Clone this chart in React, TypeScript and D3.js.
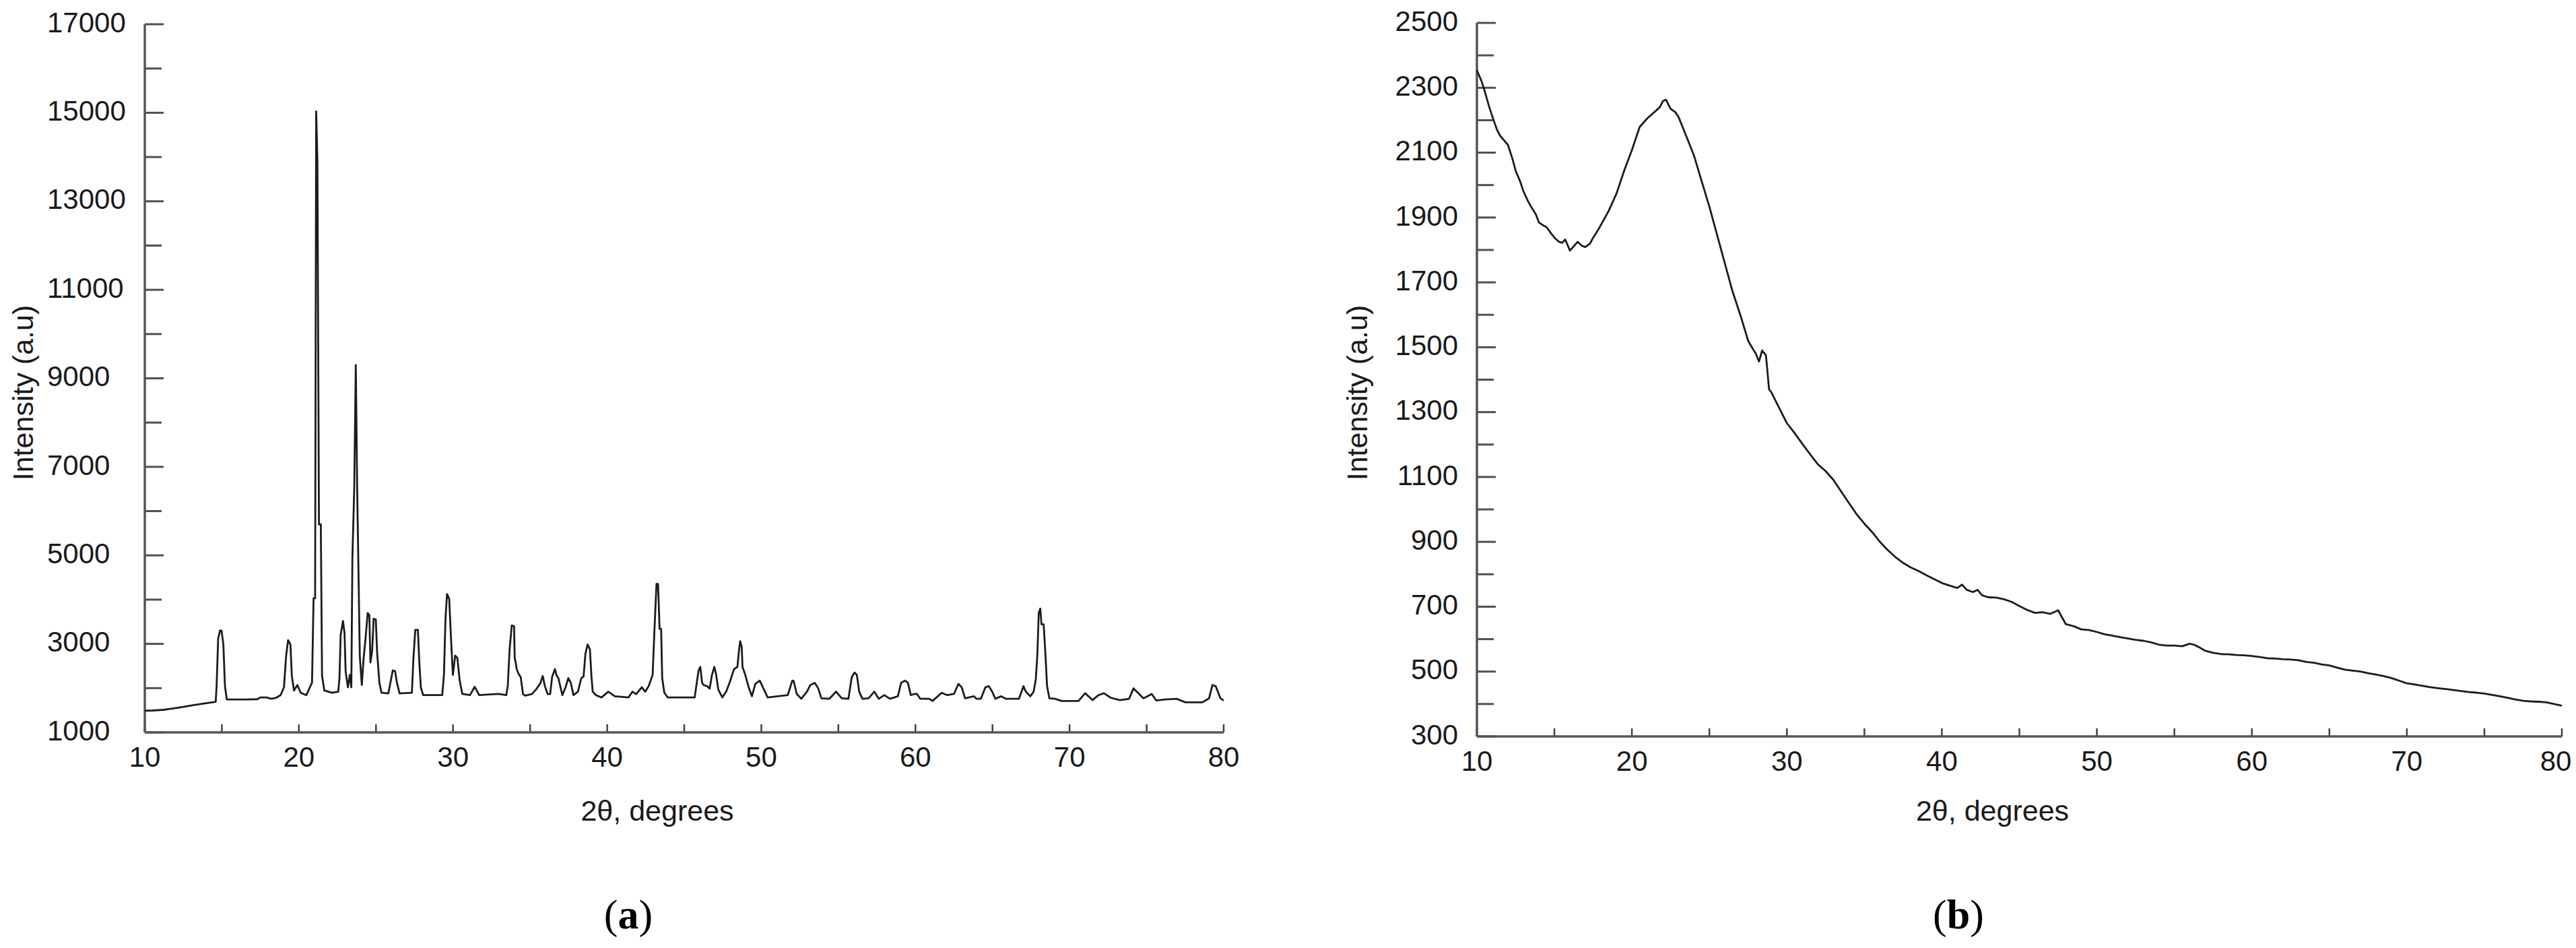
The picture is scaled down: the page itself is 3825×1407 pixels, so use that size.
import React, { useEffect, useRef } from 'react';
import * as d3 from 'd3';

// 2θ (deg) / intensity vertices, crystalline pattern
const crystalline: [number, number][] = [
  [10.0, 1490], [10.5, 1495], [11.2, 1510], [11.8, 1540], [12.5, 1575], [13.2, 1620], [14.0, 1660], [14.6, 1690],
  [14.66, 2050], [14.76, 3116], [14.88, 3300], [14.98, 3300], [15.1, 2980], [15.2, 2050], [15.32, 1745],
  [16.5, 1745], [17.3, 1750], [17.5, 1790], [17.9, 1790], [18.2, 1760], [18.5, 1780], [18.81, 1842],
  [19.03, 2020], [19.17, 2735], [19.3, 3085], [19.45, 2985], [19.54, 2280], [19.68, 1945], [19.9, 2070],
  [20.12, 1895], [20.48, 1842], [20.85, 2125],
  [20.95, 4030], [21.05, 4030], [21.12, 15030], [21.2, 13900], [21.3, 5700], [21.42, 5700], [21.5, 2280], [21.65, 1945],
  [22.15, 1895], [22.55, 1918], [22.63, 2225], [22.71, 3212], [22.86, 3517], [22.96, 3240], [23.03, 2375],
  [23.18, 2020], [23.3, 2300], [23.4, 2020],
  [23.47, 4963], [23.59, 6510], [23.69, 9300], [23.78, 6510], [23.95, 2730], [24.08, 2070], [24.2, 2680],
  [24.32, 3110], [24.46, 3695], [24.57, 3650], [24.64, 2580], [24.75, 2830], [24.85, 3570], [24.99, 3550],
  [25.07, 2830], [25.22, 2125], [25.36, 1895], [25.8, 1880],
  [25.95, 2150], [26.09, 2400], [26.24, 2380], [26.36, 2125], [26.53, 1880], [27.33, 1895],
  [27.43, 2680], [27.55, 3315], [27.72, 3315], [27.81, 2600], [27.91, 2020], [28.06, 1842], [29.3, 1842],
  [29.41, 2300], [29.51, 3570], [29.61, 4126], [29.75, 4020], [29.88, 3040], [29.99, 2300], [30.14, 2735],
  [30.28, 2680], [30.43, 2175], [30.6, 1868],
  [31.1, 1842], [31.4, 2030], [31.7, 1842], [32.94, 1870], [33.45, 1842],
  [33.55, 2045], [33.67, 2883], [33.81, 3415], [33.96, 3400], [34.0, 2680], [34.07, 2570], [34.13, 2430],
  [34.25, 2325], [34.39, 2250], [34.54, 1865], [34.68, 1830], [35.12, 1865], [35.41, 1980], [35.67, 2115],
  [35.82, 2275], [35.96, 2045], [36.14, 1865], [36.3, 1865], [36.43, 2255], [36.61, 2430], [36.72, 2285],
  [36.84, 2220], [37.09, 1842], [37.3, 2020], [37.48, 2225], [37.64, 2120], [37.81, 1842], [38.1, 1920],
  [38.32, 2225], [38.47, 2265], [38.59, 2780], [38.73, 2985], [38.88, 2880], [38.98, 2265], [39.06, 1920],
  [39.27, 1842], [39.63, 1790], [40.07, 1920], [40.5, 1816], [41.38, 1790], [41.64, 1920], [41.88, 1865],
  [42.25, 2020], [42.47, 1920], [42.69, 2045], [42.95, 2300], [43.07, 3340], [43.2, 4354], [43.3, 4354],
  [43.4, 3340], [43.5, 3340], [43.57, 2225], [43.71, 1895], [43.93, 1790], [45.68, 1790],
  [45.78, 2045], [45.93, 2400], [46.04, 2480], [46.16, 2120], [46.26, 2070], [46.48, 2045], [46.65, 1990],
  [46.8, 2300], [46.95, 2480], [47.06, 2325], [47.21, 1970], [47.47, 1790], [47.72, 1920], [47.97, 2150],
  [48.23, 2430], [48.45, 2480], [48.56, 2880], [48.63, 3060], [48.73, 2930], [48.78, 2480], [48.96, 2300],
  [49.18, 2020], [49.39, 1816], [49.61, 2095], [49.9, 2170], [50.1, 2020], [50.41, 1790], [51.72, 1842],
  [52.01, 2170], [52.1, 2160], [52.3, 1868], [52.59, 1760], [52.96, 1920], [53.18, 2070], [53.47, 2120],
  [53.69, 1995], [53.9, 1770], [54.42, 1760], [54.85, 1920], [55.22, 1770], [55.65, 1760], [55.87, 2250],
  [56.06, 2350], [56.2, 2300], [56.35, 1920], [56.56, 1760], [56.96, 1770], [57.33, 1920], [57.62, 1760],
  [57.98, 1842], [58.35, 1760], [58.86, 1816], [59.07, 2120], [59.32, 2170], [59.51, 2120], [59.7, 1842],
  [59.95, 1868], [60.1, 1868], [60.31, 1760], [60.9, 1760], [61.11, 1710], [61.7, 1895], [62.06, 1842],
  [62.5, 1868], [62.79, 2095], [63.0, 2020], [63.22, 1770], [63.8, 1816], [63.95, 1760], [64.25, 1760],
  [64.54, 2020], [64.76, 2045], [64.98, 1920], [65.19, 1760], [65.56, 1816], [65.85, 1760], [66.72, 1760],
  [67.01, 2045], [67.16, 1920], [67.45, 1816], [67.67, 1920], [67.81, 2200], [67.91, 2755], [68.0, 3695],
  [68.1, 3797], [68.18, 3440], [68.32, 3440], [68.44, 2730], [68.54, 2045], [68.69, 1770], [69.05, 1760],
  [69.49, 1710], [70.58, 1710], [71.01, 1885], [71.49, 1730], [71.88, 1842], [72.22, 1885], [72.69, 1780],
  [73.27, 1730], [73.86, 1760], [74.15, 1995], [74.8, 1770], [75.33, 1868], [75.63, 1720], [76.2, 1745],
  [76.94, 1760], [77.52, 1680], [78.61, 1680], [79.05, 1770], [79.27, 2070], [79.48, 2045], [79.79, 1770],
  [80.0, 1720],
];

// 2θ (deg) / intensity, amorphous pattern
const amorphous: [number, number][] = [
  [10.0, 2354], [10.3, 2320], [10.5, 2290], [10.8, 2240], [11, 2211], [11.3, 2170], [11.5, 2152], [11.8, 2135],
  [12, 2124], [12.3, 2080], [12.5, 2044], [12.8, 2010], [13, 1981], [13.3, 1950], [13.5, 1933], [13.8, 1910],
  [14, 1885], [14.3, 1875], [14.5, 1870], [14.8, 1850], [15, 1838], [15.3, 1825], [15.5, 1822], [15.7, 1832],
  [16, 1798], [16.3, 1814], [16.5, 1825], [16.8, 1812], [17, 1809], [17.3, 1820], [17.5, 1838], [17.8, 1860],
  [18, 1877], [18.5, 1920], [19, 1973], [19.5, 2044], [20, 2108], [20.5, 2179], [21, 2206], [21.5, 2227],
  [21.8, 2240], [22, 2259], [22.2, 2263], [22.5, 2235], [22.8, 2225], [23, 2211], [23.5, 2152], [24, 2092],
  [24.5, 2012], [25, 1933], [25.5, 1846], [26, 1758], [26.5, 1671], [27, 1599], [27.5, 1520], [27.8, 1495],
  [28, 1480], [28.2, 1456], [28.4, 1490], [28.65, 1475], [28.85, 1370], [29, 1361], [29.5, 1313], [30, 1266],
  [30.5, 1235], [31, 1202], [31.5, 1170], [32, 1139], [32.5, 1118], [33, 1091], [33.5, 1055], [34, 1020],
  [34.5, 985], [35, 956], [35.5, 930], [36, 900], [36.5, 875], [37, 853], [37.5, 835], [38, 821], [38.5, 810],
  [39, 797], [39.5, 785], [40, 773], [40.5, 765], [41, 758], [41.3, 768], [41.6, 752], [42, 745], [42.3, 752],
  [42.6, 735], [43, 729], [43.5, 728], [44, 723], [44.5, 715], [45, 702], [45.5, 690], [46, 681], [46.5, 683],
  [47, 678], [47.5, 689], [48, 646], [48.5, 640], [49, 630], [49.5, 628], [50, 622], [50.5, 615], [51, 611],
  [51.5, 606], [52, 602], [52.5, 598], [53, 595], [53.5, 590], [54, 583], [54.5, 580], [55, 580], [55.5, 578],
  [56, 586], [56.3, 582], [56.6, 575], [57, 564], [57.5, 558], [58, 554], [58.5, 553], [59, 551], [59.5, 550],
  [60, 548], [60.5, 545], [61, 541], [61.5, 540], [62, 538], [62.5, 537], [63, 535], [63.5, 530], [64, 527],
  [64.5, 522], [65, 519], [65.5, 512], [66, 506], [66.5, 503], [67, 500], [67.5, 495], [68, 491], [68.5, 486],
  [69, 480], [69.5, 472], [70, 464], [70.5, 460], [71, 456], [71.5, 452], [72, 449], [72.5, 446], [73, 443],
  [73.5, 440], [74, 437], [74.5, 435], [75, 432], [75.5, 428], [76, 424], [76.5, 419], [77, 414], [77.5, 410],
  [78, 408], [78.5, 407], [79, 405], [79.5, 400], [80, 395],
];

const xTicks = [10, 15, 20, 25, 30, 35, 40, 45, 50, 55, 60, 65, 70, 75, 80];
const xLabels = [10, 20, 30, 40, 50, 60, 70, 80];
const yTicksA = d3.range(1000, 17001, 1000);
const yLabelsA = [1000, 3000, 5000, 7000, 9000, 11000, 13000, 15000, 17000];
const yTicksB = d3.range(300, 2501, 100);
const yLabelsB = [300, 500, 700, 900, 1100, 1300, 1500, 1700, 1900, 2100, 2300, 2500];

const xTitle = '2θ, degrees';
const yTitle = 'Intensity (a.u)';

const SANS = '"Liberation Sans", Arial, sans-serif';
const SERIF = '"Liberation Serif", "Times New Roman", serif';
const W = 3825;

const App = () => {
  const ref = useRef<SVGSVGElement>(null);

  const graph = () => {
    const svg = d3.select(ref.current);
    svg.selectAll('*').remove();

    const panels = [
      {
        data: crystalline, yDomain: [1000, 17000], yTicks: yTicksA, yLabels: yLabelsA,
        x0: 215, x1: 1817, yTop: 36, yBot: 1087, labelX: 70, labelAnchor: 'start',
        yTitleX: 34, tag: 'a', tagX: 933,
      },
      {
        data: amorphous, yDomain: [300, 2500], yTicks: yTicksB, yLabels: yLabelsB,
        x0: 2193, x1: 3804, yTop: 34, yBot: 1093, labelX: 2165, labelAnchor: 'end',
        yTitleX: 2015, tag: 'b', tagX: 2908,
      },
    ];

    panels.forEach((p) => {
      const x = d3.scaleLinear().domain([10, 80]).range([p.x0, p.x1]);
      const y = d3.scaleLinear().domain(p.yDomain).range([p.yBot, p.yTop]);
      const g = svg.append('g');

      // y ticks (inside, pointing right)
      g.selectAll('line.yt')
        .data(p.yTicks)
        .enter().append('line')
        .attr('x1', p.x0)
        .attr('x2', (d) => p.x0 + (p.yLabels.includes(d) ? 28 : 25))
        .attr('y1', (d) => y(d))
        .attr('y2', (d) => y(d))
        .attr('stroke', '#505050')
        .attr('stroke-width', 3);

      g.selectAll('text.yl')
        .data(p.yLabels)
        .enter().append('text')
        .attr('x', p.labelX)
        .attr('y', (d) => y(d) - 3)
        .attr('dy', '0.35em')
        .attr('text-anchor', p.labelAnchor)
        .style('font-family', SANS)
        .style('font-size', '42px')
        .attr('fill', '#1a1a1a')
        .text((d) => d);

      // x ticks (inside, pointing up)
      g.selectAll('line.xt')
        .data(xTicks)
        .enter().append('line')
        .attr('x1', (d) => x(d))
        .attr('x2', (d) => x(d))
        .attr('y1', p.yBot)
        .attr('y2', p.yBot - 12)
        .attr('stroke', '#404040')
        .attr('stroke-width', 2.5);

      // keep the last label inside the page edge
      g.selectAll('text.xl')
        .data(xLabels)
        .enter().append('text')
        .attr('x', (d) => Math.min(x(d), W - 30))
        .attr('y', p.yBot + 36)
        .attr('dy', '0.35em')
        .attr('text-anchor', 'middle')
        .style('font-family', SANS)
        .style('font-size', '42px')
        .attr('fill', '#1a1a1a')
        .text((d) => d);

      // axis lines
      g.append('line')
        .attr('x1', p.x0).attr('x2', p.x0)
        .attr('y1', p.yTop).attr('y2', p.yBot)
        .attr('stroke', '#555').attr('stroke-width', 3.5);
      g.append('line')
        .attr('x1', p.x0).attr('x2', p.x1)
        .attr('y1', p.yBot).attr('y2', p.yBot)
        .attr('stroke', '#555').attr('stroke-width', 3.5);

      // pattern
      const line = d3.line<[number, number]>()
        .x((d) => x(d[0]))
        .y((d) => y(d[1]));
      g.append('path')
        .datum(p.data)
        .attr('d', line)
        .attr('fill', 'none')
        .attr('stroke', '#1c1c1c')
        .attr('stroke-width', 2.8)
        .attr('stroke-linejoin', 'round');

      // titles
      g.append('text')
        .attr('x', (p.x0 + p.x1) / 2 - 40)
        .attr('y', 1203)
        .attr('dy', '0.35em')
        .attr('text-anchor', 'middle')
        .style('font-family', SANS)
        .style('font-size', '43px')
        .attr('fill', '#1a1a1a')
        .text(xTitle);

      g.append('text')
        .attr('transform', `translate(${p.yTitleX}, 583) rotate(-90)`)
        .attr('dy', '0.35em')
        .attr('text-anchor', 'middle')
        .style('font-family', SANS)
        .style('font-size', '43px')
        .attr('fill', '#1a1a1a')
        .text(yTitle);

      const tag = g.append('text')
        .attr('x', p.tagX)
        .attr('y', 1356)
        .attr('dy', '0.35em')
        .attr('text-anchor', 'middle')
        .style('font-family', SERIF)
        .style('font-size', '62px')
        .attr('fill', '#000');
      tag.append('tspan').text('(');
      tag.append('tspan').style('font-weight', 'bold').text(p.tag);
      tag.append('tspan').text(')');
    });
  };

  useEffect(() => graph());

  return (
    <svg
      ref={ref}
      width={W}
      height="1407"
      style={{ position: 'absolute', left: 0, top: 0, background: '#fff' }}
    ></svg>
  );
};

export default App;
